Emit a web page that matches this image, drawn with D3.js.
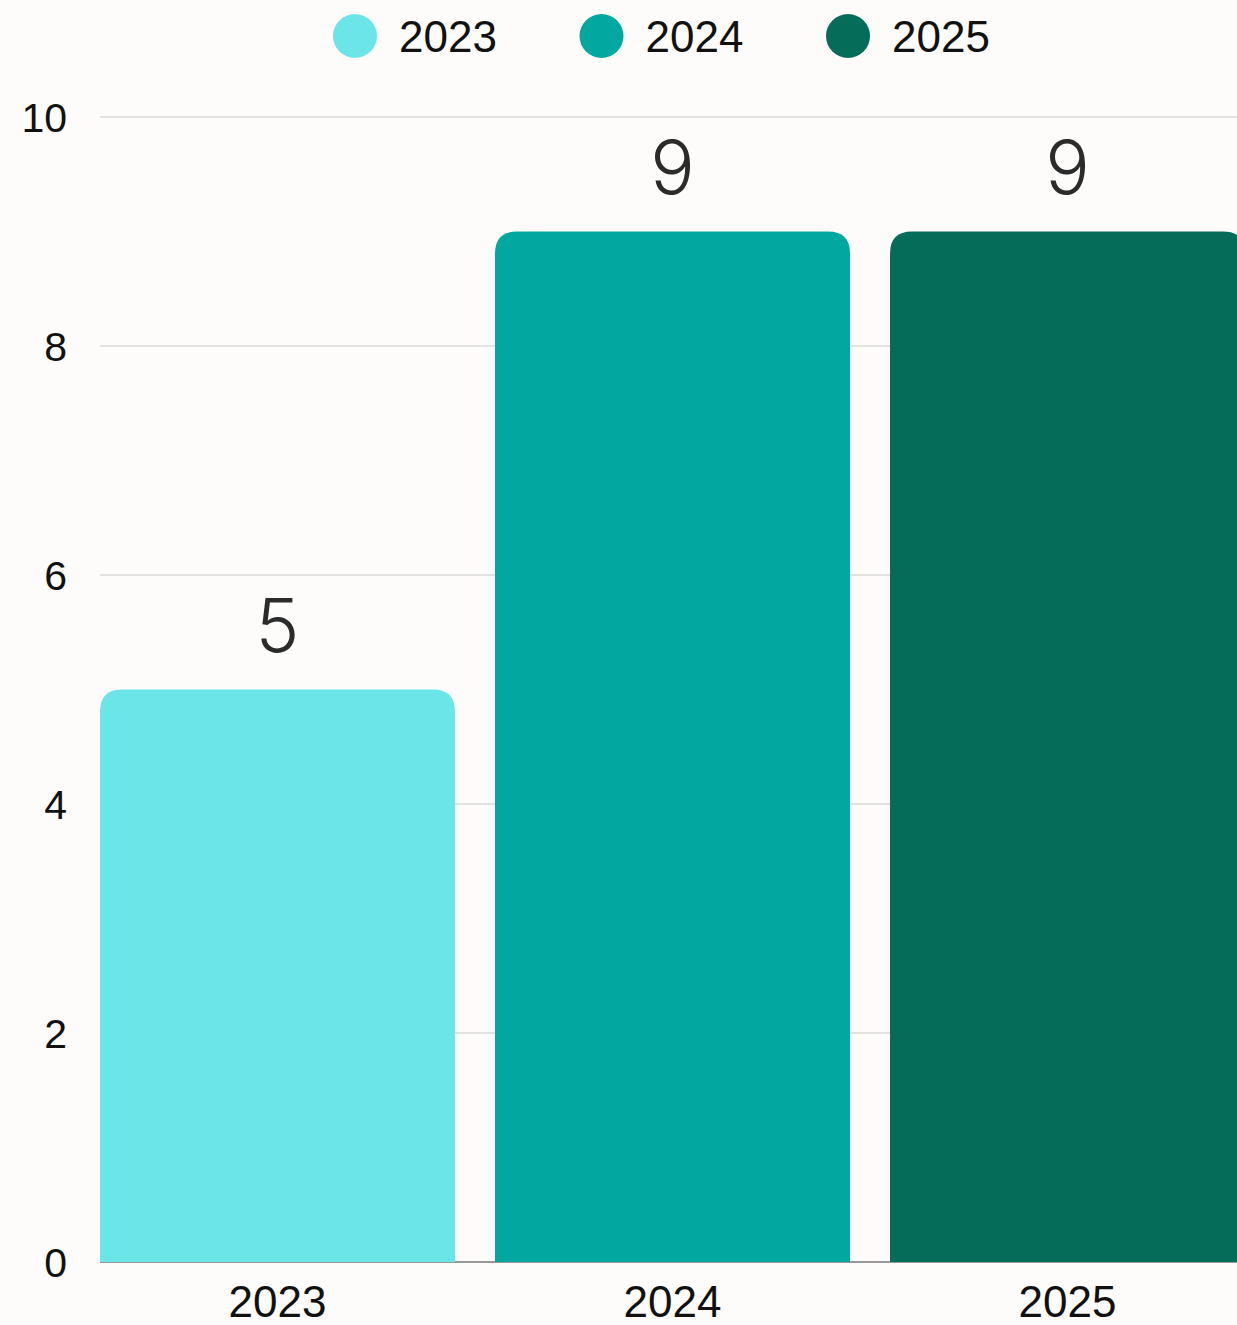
<!DOCTYPE html>
<html><head><meta charset="utf-8">
<script src="https://cdn.jsdelivr.net/npm/d3@7"></script>
<style>
html,body{margin:0;padding:0;background:#fdfcfa;overflow:hidden;}
svg{display:block;}
</style></head>
<body>
<svg id="chart" width="1237" height="1325"></svg>
<script>
const categories = ["2023", "2024", "2025"];
const values = [5, 9, 9];
const colors = ["#6ce5e8", "#02a79f", "#066c5a"];
const yTicks = [0, 2, 4, 6, 8, 10];

(function () {
const W = 1237, H = 1325;
const svg = d3.select("#chart");
svg.append("rect").attr("width", W).attr("height", H).attr("fill", "#fdfcfa");

const mLeft = 100, mBottom = 1262, mTop = 117;
const pad = 40 / 395;
const x = d3.scaleBand().domain(categories)
  .range([mLeft, mLeft + 395 * (categories.length - pad)])
  .paddingInner(pad).paddingOuter(0);
const y = d3.scaleLinear().domain([0, 10]).range([mBottom, mTop]);

// gridlines
svg.append("g").selectAll("line").data(yTicks.filter(d => d > 0)).join("line")
  .attr("x1", mLeft).attr("x2", W)
  .attr("y1", d => y(d)).attr("y2", d => y(d))
  .attr("stroke", "#c8c8c8").attr("stroke-width", 1.2);

// y axis labels
const yAxis = d3.axisLeft(y).tickValues(yTicks).tickSize(0).tickPadding(0).tickFormat(d3.format("d"));
const ya = svg.append("g").attr("transform", `translate(67,0)`).call(yAxis);
ya.select(".domain").remove();
ya.selectAll("text").attr("font-family", "Liberation Sans, Arial, sans-serif")
  .attr("font-size", 41).attr("fill", "#111").attr("dy", "0.36em");

// baseline
svg.append("line").attr("x1", mLeft).attr("x2", W).attr("y1", mBottom).attr("y2", mBottom)
  .attr("stroke", "#999").attr("stroke-width", 2);

// bars with rounded top
const r = 22;
function barPath(x0, w, y0, y1) {
  return `M${x0},${y1} L${x0},${y0 + r} Q${x0},${y0} ${x0 + r},${y0} L${x0 + w - r},${y0} Q${x0 + w},${y0} ${x0 + w},${y0 + r} L${x0 + w},${y1} Z`;
}
svg.append("g").selectAll("path").data(categories).join("path")
  .attr("d", (c, i) => barPath(x(c), x.bandwidth(), y(values[i]), y(0)))
  .attr("fill", (c, i) => colors[i]);

// value labels
svg.append("g").selectAll("text").data(categories).join("text")
  .attr("x", c => x(c) + x.bandwidth() / 2)
  .attr("y", (c, i) => y(values[i]) - 38)
  .attr("text-anchor", "middle")
  .attr("font-family", "Inter, 'Open Sans', sans-serif")
  .attr("font-weight", 300)
  .attr("font-size", 74).attr("fill", "#2b2b2b")
  .text((c, i) => values[i]);

// x axis labels
const xAxis = d3.axisBottom(x).tickSize(0).tickPadding(0);
const xa = svg.append("g").attr("transform", `translate(0,${mBottom})`).call(xAxis);
xa.select(".domain").remove();
xa.selectAll("text").attr("font-family", "Liberation Sans, Arial, sans-serif")
  .attr("font-size", 44).attr("fill", "#111").attr("dy", "1.25em");

// legend
const lg = svg.append("g").selectAll("g").data(categories).join("g")
  .attr("transform", (c, i) => `translate(${355 + i * 246.5},36)`);
lg.append("circle").attr("r", 22).attr("fill", (c, i) => colors[i]);
lg.append("text").attr("x", 44).attr("dy", "0.36em")
  .attr("font-family", "Liberation Sans, Arial, sans-serif")
  .attr("font-size", 44).attr("fill", "#111").text(c => c);
})();
</script>
</body></html>
